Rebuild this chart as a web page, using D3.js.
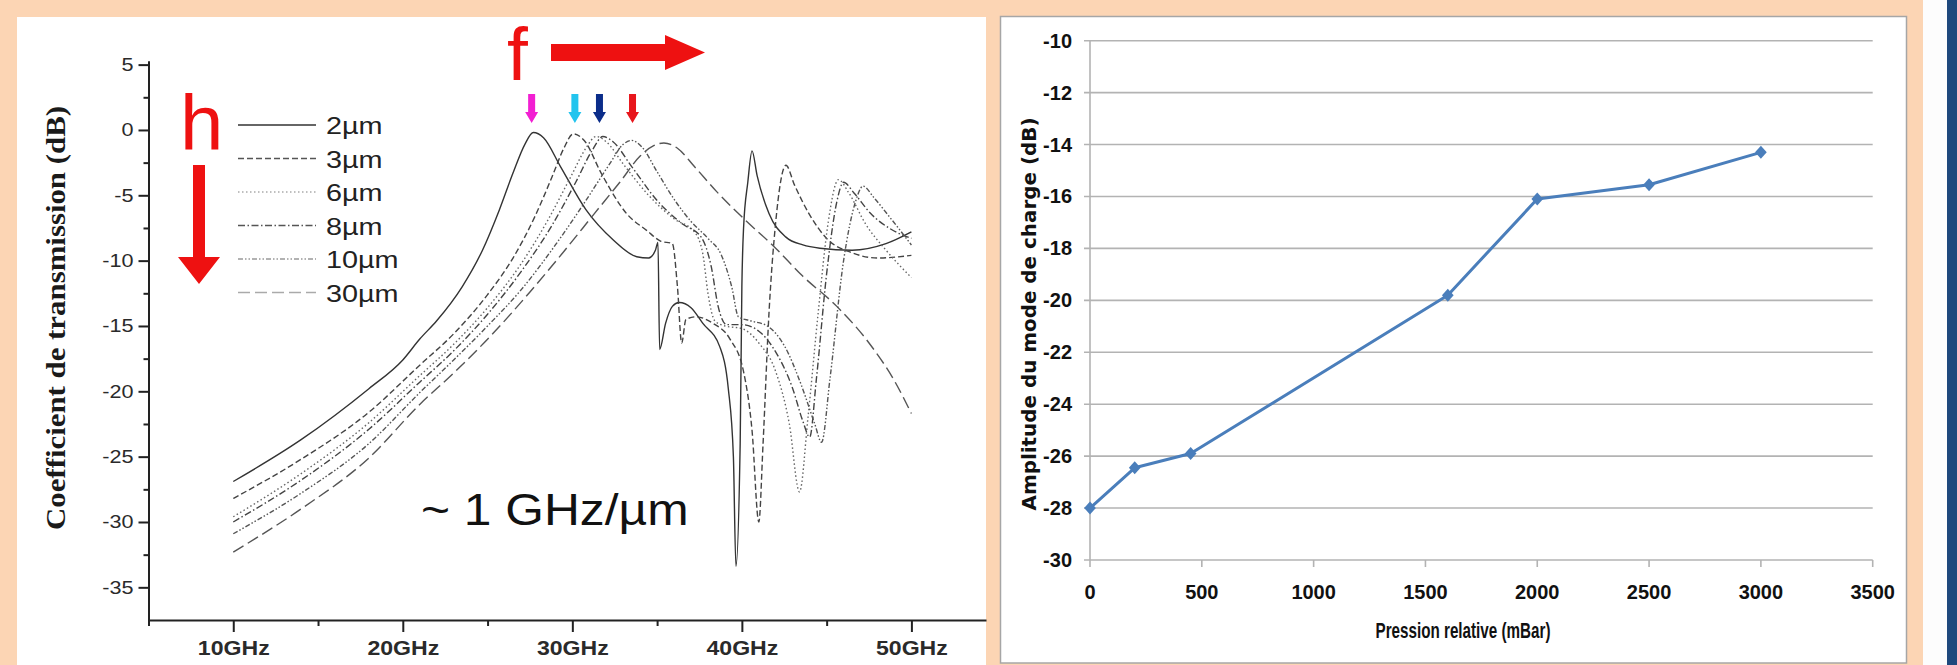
<!DOCTYPE html>
<html>
<head>
<meta charset="utf-8">
<script src="https://cdnjs.cloudflare.com/ajax/libs/d3/7.8.5/d3.min.js"></script>
<style>
  body { margin: 0; background: #fcd5b4; }
  svg { display: block; }
</style>
</head>
<body>
<svg id="fig" width="1957" height="665"></svg>
<script>
/*------------------------
  -------- DATA ---------
  ------------------------*/

// left chart : transmission coefficient (dB) vs frequency (GHz)
var freq_ticks = [10, 20, 30, 40, 50];
var freq_minor = [5, 15, 25, 35, 45];
var db_ticks = [5, 0, -5, -10, -15, -20, -25, -30, -35];
var db_minor = [2.5, -2.5, -7.5, -12.5, -17.5, -22.5, -27.5, -32.5];
var thickness = ["2µm", "3µm", "6µm", "8µm", "10µm", "30µm"];
var peak_freqs = [27.6, 30.15, 31.6, 33.55];
var peak_colors = ["#f21fd2", "#22c4ee", "#0b2d8a", "#e8161c"];

var t_2um = [[10,-26.9],[14,-23.7],[18,-19.8],[20,-17.6],[21,-16.0],[22,-14.6],[23.5,-12.0],[24.7,-9.2],[25.7,-6.1],[26.5,-3.3],[27.2,-1.1],[27.7,-0.2],[28.3,-0.6],[29.3,-2.8],[30.8,-6.1],[32.4,-8.4],[33.8,-9.7],[34.5,-9.8],[34.9,-9.2],[35.05,-8.6],[35.15,-16.8],[35.5,-14.8],[35.9,-13.5],[36.3,-13.2],[37.0,-13.6],[37.7,-14.8],[38.7,-16.6],[39.2,-19.8],[39.5,-25.0],[39.65,-33.4],[39.9,-24],[40.0,-12],[40.1,-7.5],[40.35,-4],[40.6,-1.6],[40.9,-3.5],[41.6,-6.4],[42.6,-8.2],[43.6,-8.8],[44.6,-9.05],[46.5,-9.2],[48.5,-8.7],[50,-7.8]];
var t_3um = [[10,-28.2],[14,-25.2],[18,-21.6],[21,-18.0],[23,-15.6],[25,-12.6],[26.5,-9.8],[27.8,-6.6],[28.8,-3.6],[29.5,-1.4],[30.05,-0.3],[30.7,-0.8],[31.7,-3.3],[33.2,-6.4],[34.4,-7.7],[35.2,-8.5],[35.9,-8.7],[36.2,-12],[36.45,-16.3],[36.7,-14.5],[37.3,-14.3],[38.3,-14.8],[39.3,-16.0],[40.1,-18.5],[40.6,-23],[41.0,-30.0],[41.25,-24],[41.6,-14],[42.0,-7],[42.6,-2.7],[43.1,-4.2],[44.0,-6.5],[45.0,-8.3],[46.5,-9.4],[48,-9.8],[50,-9.6]];
var t_6um = [[10,-29.6],[14,-26.3],[18,-22.4],[21,-18.8],[23,-16.4],[25,-13.6],[27,-10.2],[28.6,-6.8],[29.9,-3.6],[30.8,-1.4],[31.4,-0.5],[32.0,-0.9],[33.0,-2.6],[34.5,-5.0],[36.0,-6.8],[37.2,-7.8],[37.7,-9.5],[38.0,-12.5],[38.4,-14.6],[39.0,-15.0],[40.0,-15.2],[41.0,-16.3],[42.0,-18.5],[42.8,-22.5],[43.4,-27.7],[43.9,-22],[44.5,-14],[45.1,-7],[45.7,-3.8],[46.3,-4.8],[47.3,-7.2],[48.5,-9.2],[50,-11.3]];
var t_8um = [[10,-30.0],[14,-26.8],[18,-22.9],[21,-19.3],[23,-16.9],[25,-14.1],[27,-10.8],[28.8,-7.3],[30.2,-4.0],[31.2,-1.5],[31.8,-0.5],[32.4,-0.9],[33.5,-2.8],[35,-5.4],[36.5,-7.2],[37.6,-8.2],[38.2,-10.5],[38.6,-13.5],[39.1,-14.9],[40.0,-14.9],[41.0,-15.4],[42.0,-17.0],[43.0,-19.8],[43.6,-22.3],[44.0,-23.5],[44.4,-19],[45.0,-11],[45.6,-5.5],[46.0,-4.0],[46.6,-4.8],[47.6,-6.4],[48.8,-7.6],[50,-8.3]];
var t_10um = [[10,-30.9],[14,-27.8],[18,-24.0],[21,-20.1],[23,-17.6],[25,-15.0],[27,-12.2],[29,-8.8],[30.8,-5.4],[32.2,-2.6],[33.0,-1.1],[33.5,-0.8],[34.1,-1.3],[35.0,-3.2],[36.0,-5.3],[37.0,-7.0],[38.0,-8.3],[38.8,-9.6],[39.4,-12],[39.8,-14.3],[40.5,-14.6],[41.5,-15.0],[42.5,-16.5],[43.5,-19.5],[44.3,-22.5],[44.7,-23.9],[45.2,-19],[46.0,-10],[46.7,-5.5],[47.15,-4.3],[47.8,-5.2],[48.8,-6.8],[50,-8.8]];
var t_30um = [[10,-32.3],[14,-29.0],[18,-25.1],[21,-21.0],[23,-18.6],[25.3,-15.6],[27.5,-12.4],[29.5,-9.3],[31.3,-6.4],[32.8,-4.0],[34.0,-2.0],[34.8,-1.2],[35.4,-1.0],[36.2,-1.4],[37.2,-2.8],[38.5,-4.7],[40.2,-6.9],[41.8,-8.8],[43.6,-11.2],[45.6,-13.5],[47.5,-16.3],[49,-19.2],[50,-21.7]];
var transmission = [t_2um, t_3um, t_6um, t_8um, t_10um, t_30um];

// right chart : charge mode amplitude vs relative pressure
var pressure = [0, 200, 450, 1600, 2000, 2500, 3000];
var amplitude = [-28, -26.45, -25.9, -19.8, -16.1, -15.55, -14.3];
var pressure_ticks = [0, 500, 1000, 1500, 2000, 2500, 3000, 3500];
var amplitude_ticks = [-10, -12, -14, -16, -18, -20, -22, -24, -26, -28, -30];

// line styles of the six thickness curves
var dash_styles = ["none", "6,3", "1.5,2.5", "7,2.5,1.5,2.5", "5,2,1.5,2,1.5,2", "12,5"];
var line_greys = ["#333", "#444", "#666", "#444", "#555", "#555"];
var legend_greys = ["#333", "#555", "#aaa", "#555", "#999", "#aaa"];

var svg = d3.select("#fig");
var LEFT_FONT = "'Liberation Sans', Arial, sans-serif";
var NARROW_FONT = "'Liberation Sans Narrow', 'Arial Narrow', 'Liberation Sans', sans-serif";

var lx = d3.scaleLinear().domain([5, 54.4]).range([148.5, 986]);
var ly = d3.scaleLinear().domain([-37.5, 5.3]).range([620, 60.7]);

var rx = d3.scaleLinear().domain([0, 3500]).range([1090, 1872.7]);
var ry = d3.scaleLinear().domain([-30, -10]).range([560, 40.7]);


/*------------------------
  ------- PANELS ---------
  ------------------------*/
function draw_panels() {
    svg.append("rect").attr("x", 0).attr("y", 0)
        .attr("width", 1957).attr("height", 665).attr("fill", "#fcd5b4");
    svg.append("rect").attr("x", 17).attr("y", 17)
        .attr("width", 969).attr("height", 660).attr("fill", "#ffffff");
    svg.append("rect").attr("x", 1000.5).attr("y", 16.5)
        .attr("width", 906).attr("height", 646.5)
        .attr("fill", "#ffffff").attr("stroke", "#a6a6a6").attr("stroke-width", 1.5);
    svg.append("rect").attr("x", 1923).attr("y", 0)
        .attr("width", 24).attr("height", 665).attr("fill", "#fdfdfd");
    svg.append("rect").attr("x", 1947).attr("y", 0)
        .attr("width", 10).attr("height", 665).attr("fill", "#1f497d");
}


/*------------------------
  ----- LEFT CHART -------
  ------------------------*/
function style_left_axis(g) {
    g.attr("font-family", null).attr("font-size", null);
    g.select(".domain").attr("stroke", "#222").attr("stroke-width", 2);
    g.selectAll(".tick line").attr("stroke", "#222").attr("stroke-width", 2);
}

function draw_left_axes() {
    var x0 = lx(5), y0 = ly(-37.5);

    var ya = svg.append("g")
        .attr("transform", "translate(" + x0 + ",0)")
        .call(d3.axisLeft(ly).tickValues(db_ticks).tickSize(10)
            .tickSizeOuter(0).tickFormat(String));
    style_left_axis(ya);
    ya.selectAll(".tick text")
        .attr("x", -12.5).attr("transform", "scale(1.2,1)")
        .attr("font-family", LEFT_FONT).attr("font-size", 18)
        .attr("fill", "#2a2a2a");

    var ym = svg.append("g")
        .attr("transform", "translate(" + x0 + ",0)")
        .call(d3.axisLeft(ly).tickValues(db_minor).tickSize(5).tickFormat(""));
    ym.select(".domain").remove();
    style_left_axis(ym);

    var xa = svg.append("g")
        .attr("transform", "translate(0," + y0 + ")")
        .call(d3.axisBottom(lx).tickValues(freq_ticks).tickSize(12)
            .tickSizeOuter(0).tickFormat(function(d) { return d + "GHz"; }));
    style_left_axis(xa);
    xa.selectAll(".tick text")
        .attr("y", 20).attr("transform", "scale(1.1,1)")
        .attr("font-family", LEFT_FONT).attr("font-size", 21)
        .attr("font-weight", "bold").attr("fill", "#2a2a2a");

    var xm = svg.append("g")
        .attr("transform", "translate(0," + y0 + ")")
        .call(d3.axisBottom(lx).tickValues(freq_minor).tickSize(6).tickFormat(""));
    xm.select(".domain").remove();
    style_left_axis(xm);

    svg.append("text")
        .attr("transform", "translate(65,318) rotate(-90)")
        .attr("text-anchor", "middle")
        .attr("font-family", "'Liberation Serif', 'Times New Roman', serif")
        .attr("font-weight", "bold").attr("font-size", 27)
        .attr("textLength", 424).attr("lengthAdjust", "spacingAndGlyphs")
        .attr("fill", "#1a1a1a")
        .text("Coefficient de transmission (dB)");
}

function draw_left_curves() {
    var line = d3.line()
        .x(function(d) { return lx(d[0]); })
        .y(function(d) { return ly(d[1]); })
        .curve(d3.curveMonotoneX);

    svg.append("g").selectAll("path")
        .data(transmission)
        .enter()
        .append("path")
        .attr("d", line)
        .attr("fill", "none")
        .attr("stroke", function(d, i) { return line_greys[i]; })
        .attr("stroke-width", 1.4)
        .attr("stroke-dasharray", function(d, i) { return dash_styles[i]; });
}

function draw_left_legend() {
    var rows = svg.append("g").selectAll("g")
        .data(thickness)
        .enter()
        .append("g")
        .attr("transform", function(d, i) { return "translate(0," + (125 + i * 33.5) + ")"; });

    rows.append("line")
        .attr("x1", 238).attr("x2", 316).attr("y1", 0).attr("y2", 0)
        .attr("stroke", function(d, i) { return legend_greys[i]; })
        .attr("stroke-width", 1.6)
        .attr("stroke-dasharray", function(d, i) { return dash_styles[i]; });

    rows.append("text")
        .attr("transform", "translate(326,9) scale(1.2,1)")
        .attr("font-family", LEFT_FONT).attr("font-size", 24)
        .attr("fill", "#222")
        .text(function(d) { return d; });
}

function draw_annotations() {
    var red = "#ee1111";

    svg.append("text").attr("x", 180).attr("y", 150)
        .attr("font-family", LEFT_FONT).attr("font-size", 78)
        .attr("fill", red).text("h");
    svg.append("text").attr("x", 507).attr("y", 80)
        .attr("font-family", LEFT_FONT).attr("font-size", 75)
        .attr("fill", red).text("f");

    // big down arrow (h) and right arrow (f)
    svg.append("path")
        .attr("d", "M193,165 L205,165 L205,257 L220,257 L199,284 L178,257 L193,257 Z")
        .attr("fill", red);
    svg.append("path")
        .attr("d", "M551,44 L665,44 L665,35 L705,52.5 L665,70 L665,61 L551,61 Z")
        .attr("fill", red);

    // small coloured arrows above the resonance peaks
    svg.append("g").selectAll("path")
        .data(peak_freqs)
        .enter()
        .append("path")
        .attr("transform", function(d) { return "translate(" + lx(d) + ",0)"; })
        .attr("d", "M-3.5,94 L3.5,94 L3.5,112 L6.5,112 L0,123 L-6.5,112 L-3.5,112 Z")
        .attr("fill", function(d, i) { return peak_colors[i]; });

    svg.append("text")
        .attr("transform", "translate(421,525) scale(1.13,1)")
        .attr("font-family", LEFT_FONT).attr("font-size", 44)
        .attr("fill", "#111")
        .text("~ 1 GHz/µm");
}


/*------------------------
  ----- RIGHT CHART ------
  ------------------------*/
var wide_diamond = {
    draw: function(ctx, size) {
        var r = Math.sqrt(size) / 2;
        ctx.moveTo(0, -r);
        ctx.lineTo(r * 0.9, 0);
        ctx.lineTo(0, r);
        ctx.lineTo(-r * 0.9, 0);
        ctx.closePath();
    }
};

function draw_right_chart() {
    var g = svg.append("g");
    var x0 = rx(0), x1 = rx(3500), y0 = ry(-30);

    g.selectAll(".grid")
        .data(amplitude_ticks)
        .enter()
        .append("line")
        .attr("class", "grid")
        .attr("x1", x0 - 6).attr("x2", x1)
        .attr("y1", ry).attr("y2", ry)
        .attr("stroke", "#b3b3b3").attr("stroke-width", 1.6);

    g.append("line")
        .attr("x1", x0).attr("x2", x0).attr("y1", ry(-10)).attr("y2", y0)
        .attr("stroke", "#b3b3b3").attr("stroke-width", 1.6);

    g.selectAll(".xtick")
        .data(pressure_ticks)
        .enter()
        .append("line")
        .attr("class", "xtick")
        .attr("x1", rx).attr("x2", rx).attr("y1", y0).attr("y2", y0 + 7)
        .attr("stroke", "#b3b3b3").attr("stroke-width", 1.6);

    g.selectAll(".ylab")
        .data(amplitude_ticks)
        .enter()
        .append("text")
        .attr("class", "ylab")
        .attr("x", 1072).attr("y", function(d) { return ry(d) + 7; })
        .attr("text-anchor", "end")
        .attr("font-family", NARROW_FONT).attr("font-weight", "bold")
        .attr("font-size", 20).attr("fill", "#111")
        .text(String);

    g.selectAll(".xlab")
        .data(pressure_ticks)
        .enter()
        .append("text")
        .attr("class", "xlab")
        .attr("x", rx).attr("y", 599)
        .attr("text-anchor", "middle")
        .attr("font-family", NARROW_FONT).attr("font-weight", "bold")
        .attr("font-size", 20).attr("fill", "#111")
        .text(String);

    g.append("text")
        .attr("x", 1463).attr("y", 638)
        .attr("text-anchor", "middle")
        .attr("font-family", NARROW_FONT).attr("font-weight", "bold")
        .attr("font-size", 22)
        .attr("textLength", 175).attr("lengthAdjust", "spacingAndGlyphs")
        .attr("fill", "#111")
        .text("Pression relative (mBar)");

    g.append("text")
        .attr("transform", "translate(1036,314) rotate(-90)")
        .attr("text-anchor", "middle")
        .attr("font-family", "'DejaVu Sans', Verdana, sans-serif")
        .attr("font-weight", "bold").attr("font-size", 19)
        .attr("textLength", 393).attr("lengthAdjust", "spacingAndGlyphs")
        .attr("fill", "#111")
        .text("Amplitude du mode de charge (dB)");

    var pts = pressure.map(function(p, i) { return [p, amplitude[i]]; });

    g.append("path")
        .datum(pts)
        .attr("d", d3.line()
            .x(function(d) { return rx(d[0]); })
            .y(function(d) { return ry(d[1]); }))
        .attr("fill", "none")
        .attr("stroke", "#4a7ebb")
        .attr("stroke-width", 3)
        .attr("stroke-linejoin", "round");

    g.selectAll(".mark")
        .data(pts)
        .enter()
        .append("path")
        .attr("class", "mark")
        .attr("transform", function(d) { return "translate(" + rx(d[0]) + "," + ry(d[1]) + ")"; })
        .attr("d", d3.symbol().type(wide_diamond).size(169))
        .attr("fill", "#4a7ebb");
}


/*---------------------
        -- RUN --
  ---------------------*/
draw_panels();
draw_left_curves();
draw_left_axes();
draw_left_legend();
draw_annotations();
draw_right_chart();
</script>
</body>
</html>
